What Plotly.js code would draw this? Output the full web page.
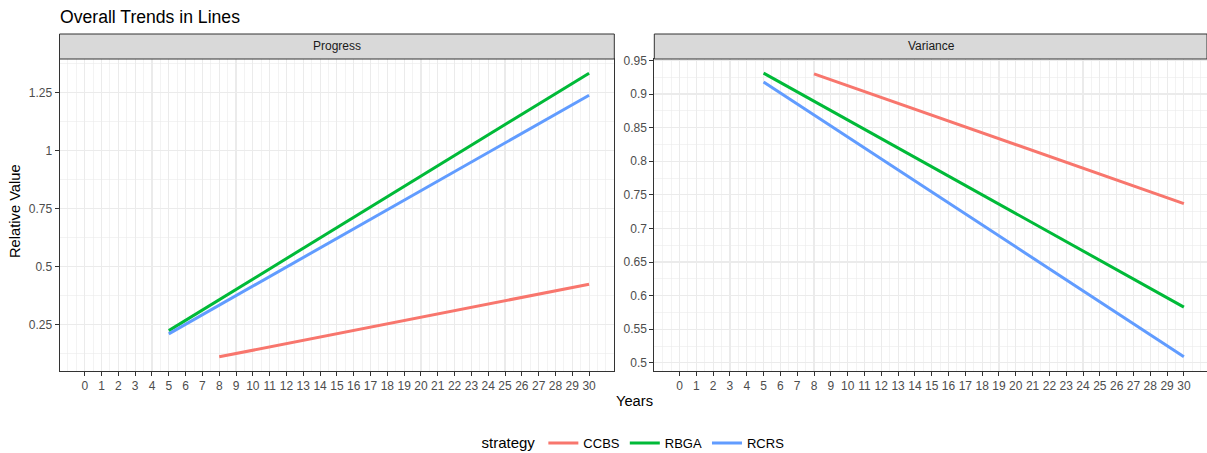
<!DOCTYPE html>
<html>
<head>
<meta charset="utf-8">
<script src="https://cdn.plot.ly/plotly-3.0.1.min.js"></script>
<style>
  html, body { margin: 0; padding: 0; background: #ffffff; }
  #chart { width: 1207px; height: 453px; }
</style>
</head>
<body>
<div id="chart"></div>
<script>
// ---- data ----
const strategies = ['CCBS', 'RBGA', 'RCRS'];
const panelNames = ['Progress', 'Variance'];

const ccbsYears = [8, 30];
const ccbsProgress = [0.112, 0.425];
const ccbsVariance = [0.930, 0.737];

const rbgaYears = [5, 30];
const rbgaProgress = [0.225, 1.335];
const rbgaVariance = [0.931, 0.583];

const rcrsYears = [5, 30];
const rcrsProgress = [0.211, 1.240];
const rcrsVariance = [0.918, 0.509];

const yearTicks = Array.from({length: 31}, (_, i) => i);
const yearLabels = yearTicks.map(String);

const progressTicks = [0.25, 0.5, 0.75, 1, 1.25];
const progressLabels = ['0.25', '0.5', '0.75', '1', '1.25'];
const varianceTicks = [0.5, 0.55, 0.6, 0.65, 0.7, 0.75, 0.8, 0.85, 0.9, 0.95];
const varianceLabels = ['0.5', '0.55', '0.6', '0.65', '0.7', '0.75', '0.8', '0.85', '0.9', '0.95'];

// ---- styling ----
const colors = ['#F8766D', '#00BA38', '#619CFF'];
const W = 1207, H = 453;
const FONT = 'Liberation Sans, Arial, Helvetica, sans-serif';

const yearsBy = [ccbsYears, rbgaYears, rcrsYears];
const progBy = [ccbsProgress, rbgaProgress, rcrsProgress];
const varBy = [ccbsVariance, rbgaVariance, rcrsVariance];

function expand(arrs) {
  const all = [].concat(...arrs);
  const lo = Math.min(...all), hi = Math.max(...all);
  const pad = (hi - lo) * 0.05;
  return [lo - pad, hi + pad];
}

const traces = [];
strategies.forEach((s, i) => {
  traces.push({
    x: yearsBy[i], y: progBy[i], type: 'scatter', mode: 'lines',
    name: s, legendgroup: s, showlegend: true,
    line: {color: colors[i], width: 3},
    xaxis: 'x', yaxis: 'y'
  });
  traces.push({
    x: yearsBy[i], y: varBy[i], type: 'scatter', mode: 'lines',
    name: s, legendgroup: s, showlegend: false,
    line: {color: colors[i], width: 3},
    xaxis: 'x2', yaxis: 'y2'
  });
});

// panel geometry (pixels)
const panelTop = 59, panelBottom = 371, stripTop = 34;
const L1 = 59.5, R1 = 614.3, L2 = 654.3, R2 = 1207;
const ydom = [(H - panelBottom) / H, (H - panelTop) / H];
const stripY = [(H - panelTop) / H, (H - stripTop) / H];
const pxPerYear = (R1 - L1) / 33;
const xRange1 = [-1.5, 31.5];
const xRange2 = [-1.5, -1.5 + (R2 - L2) / pxPerYear];

function xAxis(domain, range) {
  return {
    domain: domain, range: range,
    tickmode: 'array', tickvals: yearTicks, ticktext: yearLabels,
    ticks: 'outside', ticklen: 4, tickwidth: 1, tickcolor: '#333333',
    tickfont: {family: FONT, size: 12, color: '#4D4D4D'},
    showline: true, linecolor: '#333333', linewidth: 1, mirror: true,
    showgrid: true, gridcolor: '#EBEBEB', gridwidth: 1.1,
    minor: {dtick: 0.5, tick0: 0, showgrid: true, gridcolor: '#EBEBEB', gridwidth: 0.6, ticks: ''},
    zeroline: false, fixedrange: true
  };
}
function yAxis(anchor, range, tv, tt, minorStep) {
  return {
    anchor: anchor, domain: ydom, range: range,
    tickmode: 'array', tickvals: tv, ticktext: tt,
    ticks: 'outside', ticklen: 4, tickwidth: 1, tickcolor: '#333333',
    tickfont: {family: FONT, size: 12, color: '#4D4D4D'},
    showline: true, linecolor: '#333333', linewidth: 1, mirror: true,
    showgrid: true, gridcolor: '#EBEBEB', gridwidth: 1.1,
    minor: {dtick: minorStep, tick0: 0, showgrid: true, gridcolor: '#EBEBEB', gridwidth: 0.6, ticks: ''},
    zeroline: false, fixedrange: true
  };
}

const xa1 = xAxis([L1 / W, R1 / W], xRange1); xa1.anchor = 'y';
const xa2 = xAxis([L2 / W, R2 / W], xRange2); xa2.anchor = 'y2';

const layout = {
  width: W, height: H,
  margin: {l: 0, r: 0, t: 0, b: 0, autoexpand: false},
  paper_bgcolor: '#ffffff', plot_bgcolor: '#ffffff',
  font: {family: FONT, color: '#000000'},
  title: {
    text: 'Overall Trends in Lines',
    x: 60 / W, xanchor: 'left', xref: 'paper',
    y: 1 - 17 / H, yanchor: 'middle', yref: 'paper',
    font: {family: FONT, size: 17.6, color: '#000000'}
  },
  xaxis: xa1,
  yaxis: yAxis('x', expand(progBy), progressTicks, progressLabels, 0.125),
  xaxis2: xa2,
  yaxis2: yAxis('x2', expand(varBy), varianceTicks, varianceLabels, 0.025),
  showlegend: true,
  legend: {
    orientation: 'h', x: 634.5 / W, xanchor: 'center', y: 10 / H, yanchor: 'middle',
    title: {text: 'strategy', side: 'left', font: {family: FONT, size: 15, color: '#000000'}},
    font: {family: FONT, size: 13, color: '#000000'},
    itemwidth: 30, tracegroupgap: 0, bgcolor: 'rgba(0,0,0,0)'
  },
  shapes: [
    {type: 'rect', xref: 'paper', yref: 'paper', x0: L1 / W, x1: R1 / W, y0: stripY[0], y1: stripY[1],
     fillcolor: '#D9D9D9', line: {color: '#333333', width: 1}, layer: 'above'},
    {type: 'rect', xref: 'paper', yref: 'paper', x0: L2 / W, x1: R2 / W, y0: stripY[0], y1: stripY[1],
     fillcolor: '#D9D9D9', line: {color: '#333333', width: 1}, layer: 'above'}
  ],
  annotations: [
    {text: panelNames[0], xref: 'paper', yref: 'paper', x: (L1 + R1) / 2 / W, y: (stripY[0] + stripY[1]) / 2,
     xanchor: 'center', yanchor: 'middle', showarrow: false, font: {family: FONT, size: 12, color: '#1A1A1A'}},
    {text: panelNames[1], xref: 'paper', yref: 'paper', x: (L2 + 1209.5) / 2 / W, y: (stripY[0] + stripY[1]) / 2,
     xanchor: 'center', yanchor: 'middle', showarrow: false, font: {family: FONT, size: 12, color: '#1A1A1A'}},
    {text: 'Years', xref: 'paper', yref: 'paper', x: 634.5 / W, y: (H - 401) / H,
     xanchor: 'center', yanchor: 'middle', showarrow: false, font: {family: FONT, size: 14.7, color: '#000000'}},
    {text: 'Relative Value', xref: 'paper', yref: 'paper', x: 15 / W, y: (H - 211) / H, textangle: -90,
     xanchor: 'center', yanchor: 'middle', showarrow: false, font: {family: FONT, size: 14.7, color: '#000000'}}
  ]
};

Plotly.newPlot('chart', traces, layout, {displayModeBar: false, staticPlot: true});
</script>
</body>
</html>
